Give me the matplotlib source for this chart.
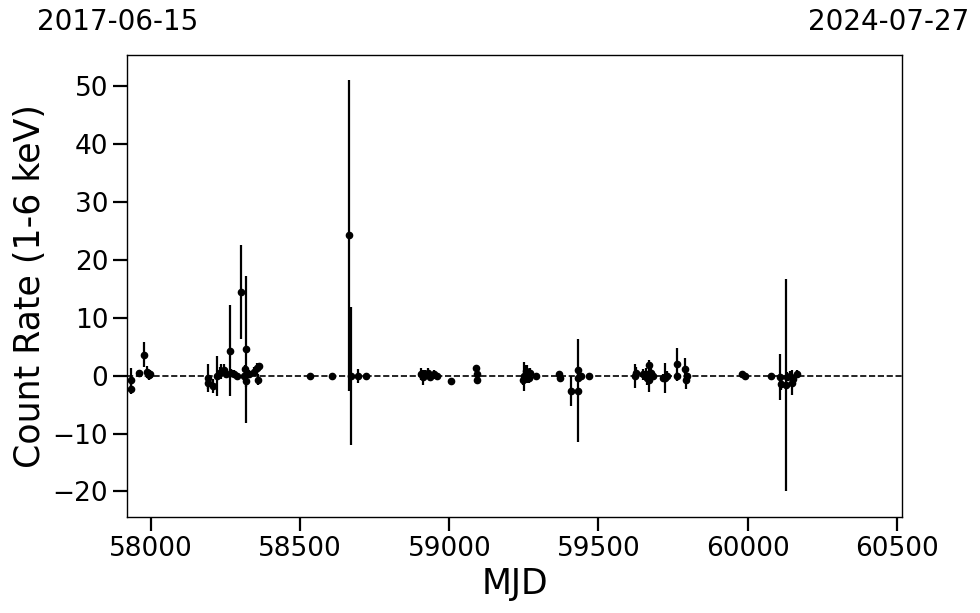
import matplotlib
matplotlib.use("Agg")
import matplotlib.pyplot as plt
import numpy as np

mjd = [57933, 57934, 57958, 57977, 57987, 57992, 57996,
       58189, 58191, 58206, 58222, 58230, 58234, 58245, 58250, 58265, 58268,
       58278, 58289, 58300, 58311, 58315, 58317, 58318, 58328, 58345, 58356,
       58358, 58362,
       58534, 58606, 58665, 58670, 58695, 58720,
       58905, 58912, 58920, 58928, 58935, 58950, 58958, 59007, 59091, 59092, 59093,
       59248, 59252, 59256, 59262, 59266, 59270, 59291, 59369, 59371, 59407,
       59430, 59431, 59432, 59440, 59467,
       59624, 59626, 59650, 59658, 59664, 59669, 59670, 59676, 59682, 59718,
       59724, 59730, 59763, 59765, 59791, 59794, 59797,
       59980, 59990, 60078, 60108, 60112, 60128, 60133, 60143, 60148, 60152, 60166]

rate = [-0.7, -2.3, 0.4, 3.6, 0.6, 0.1, 0.3,
        -0.4, -1.3, -1.8, -0.1, 0.4, 0.7, 1.0, 0.3, 4.3, 0.5,
        0.3, -0.1, 14.4, -0.1, 1.1, 4.5, -1.0, 0.2, 0.7, 1.3,
        -0.7, 1.6,
        0.0, 0.0, 24.2, 0.0, 0.0, 0.0,
        0.3, -0.3, 0.1, 0.4, -0.2, 0.2, 0.0, -1.0, 1.3, 0.2, -0.7,
        -0.7, -0.1, 0.8, 0.3, -0.5, 0.5, 0.0, 0.2, -0.5, -2.6,
        -2.6, 1.0, -0.4, 0.0, 0.0,
        -0.1, 0.5, 0.2, 0.3, -0.5, 1.9, -0.7, 0.5, 0.0, -0.4,
        -0.4, 0.0, 2.0, -0.1, 1.1, -0.7, -0.1,
        0.2, 0.0, 0.0, -0.2, -1.5, -1.6, -0.2, 0.0, -1.2, -0.6, 0.3]

err = [2.0, 0.8, 0.5, 2.2, 1.0, 0.8, 0.6,
       2.4, 1.0, 1.2, 3.4, 1.0, 1.3, 1.0, 0.8, 7.9, 0.7,
       0.6, 0.5, 8.1, 0.6, 0.8, 12.7, 1.0, 0.7, 0.8, 0.8,
       0.9, 0.6,
       0.3, 0.3, 26.8, 11.9, 1.2, 0.3,
       1.0, 1.3, 0.8, 0.9, 0.6, 0.8, 0.5, 0.3, 0.3, 0.3, 0.3,
       1.0, 2.5, 1.0, 1.5, 0.8, 0.8, 0.4, 0.4, 0.4, 2.6,
       8.9, 0.5, 0.6, 0.4, 0.4,
       2.1, 1.0, 0.9, 1.0, 1.2, 0.8, 2.2, 0.9, 0.7, 0.6,
       2.6, 0.8, 2.7, 0.8, 2.0, 1.6, 0.6,
       0.6, 0.4, 0.4, 4.0, 1.0, 18.3, 0.8, 0.8, 2.2, 0.7, 0.7]

xlim = (57919, 60518)
date_labels = ["2017-06-15", "2024-07-27"]
yticks = [-20, -10, 0, 10, 20, 30, 40, 50]
xticks = [58000, 58500, 59000, 59500, 60000, 60500]

fig = plt.figure(figsize=(9.8, 6.13), dpi=100)
ax = fig.add_axes([127/980, 1-517/613, (902-127)/980, (517-55)/613])

ax.axhline(0, color="black", ls="--", lw=1.2, zorder=1)
ax.errorbar(mjd, rate, yerr=err, fmt="o", color="black", ms=4.5, elinewidth=1.6,
            capsize=0, zorder=3)

ax.set_xlim(*xlim)
ax.set_ylim(-24.4, 55.3)
ax.set_xticks(xticks)
ax.set_yticks(yticks)
ax.tick_params(axis="both", labelsize=19, length=10, width=1.6, direction="out")
for s in ax.spines.values():
    s.set_linewidth(1.0)

ax.set_xlabel("MJD", fontsize=25)
ax.set_ylabel("Count Rate (1-6 keV)", fontsize=25)

fig.text(118/980, 1-22/613, date_labels[0], fontsize=20, ha="center", va="center")
fig.text(889/980, 1-22/613, date_labels[1], fontsize=20, ha="center", va="center")

fig.savefig("out.png", dpi=100)
